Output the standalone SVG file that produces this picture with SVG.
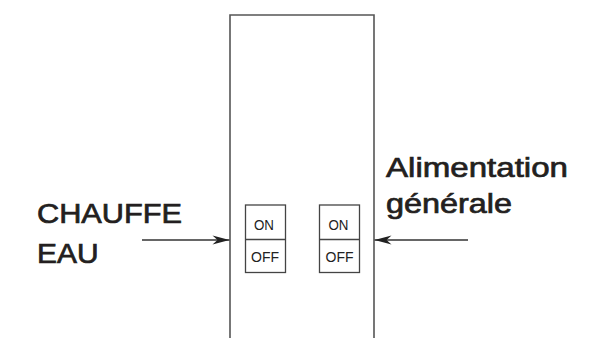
<svg xmlns="http://www.w3.org/2000/svg" width="607" height="338" viewBox="0 0 607 338">
<style>
.lbl{font-family:"Liberation Sans",Arial,sans-serif;font-size:27px;fill:#231f20;stroke:#231f20;stroke-width:0.7}
.sw{font-family:"Liberation Sans",Arial,sans-serif;font-size:14px;fill:#222;text-anchor:middle}
.box{fill:#fff;stroke:#444;stroke-width:1.3}
.panel{fill:none;stroke:#555;stroke-width:1.6}
.conn{fill:none;stroke:#333;stroke-width:1.3}
</style>
<defs>
<marker id="ah" markerUnits="userSpaceOnUse" markerWidth="20" markerHeight="12" viewBox="-18 -6 20 12" refX="0" refY="0" orient="auto">
<path d="M0,0 L-17,-4.5 L-12,0 L-17,4.5 Z" fill="#222"/>
</marker>
</defs>
<rect width="607" height="338" fill="#fff"/>
<g id="panel">
<path class="panel" d="M230,338 V15 H374 V338"/>
</g>
<g id="switch-chauffe-eau">
<rect class="box" x="245.5" y="205" width="40" height="67.5"/>
<line class="box" x1="245.5" y1="239.5" x2="285.5" y2="239.5"/>
<text class="sw" x="264" y="229.5" textLength="20" lengthAdjust="spacingAndGlyphs">ON</text>
<text class="sw" x="265" y="261.5" textLength="28" lengthAdjust="spacingAndGlyphs">OFF</text>
</g>
<g id="switch-alimentation">
<rect class="box" x="319.5" y="205" width="40" height="67.5"/>
<line class="box" x1="319.5" y1="239.5" x2="359.5" y2="239.5"/>
<text class="sw" x="338.5" y="229.5" textLength="20" lengthAdjust="spacingAndGlyphs">ON</text>
<text class="sw" x="339.5" y="261.5" textLength="28" lengthAdjust="spacingAndGlyphs">OFF</text>
</g>
<g id="label-chauffe-eau">
<text class="lbl" x="37" y="223" textLength="145" lengthAdjust="spacingAndGlyphs">CHAUFFE</text>
<text class="lbl" x="37" y="263" textLength="61.5" lengthAdjust="spacingAndGlyphs">EAU</text>
</g>
<g id="label-alimentation">
<text class="lbl" x="386" y="177" textLength="182" lengthAdjust="spacingAndGlyphs">Alimentation</text>
<text class="lbl" x="386" y="213" textLength="126" lengthAdjust="spacingAndGlyphs">générale</text>
</g>
<g id="connectors">
<line class="conn" x1="142" y1="240" x2="229.5" y2="240" marker-end="url(#ah)"/>
<line class="conn" x1="468" y1="240" x2="374.5" y2="240" marker-end="url(#ah)"/>
</g>
</svg>
